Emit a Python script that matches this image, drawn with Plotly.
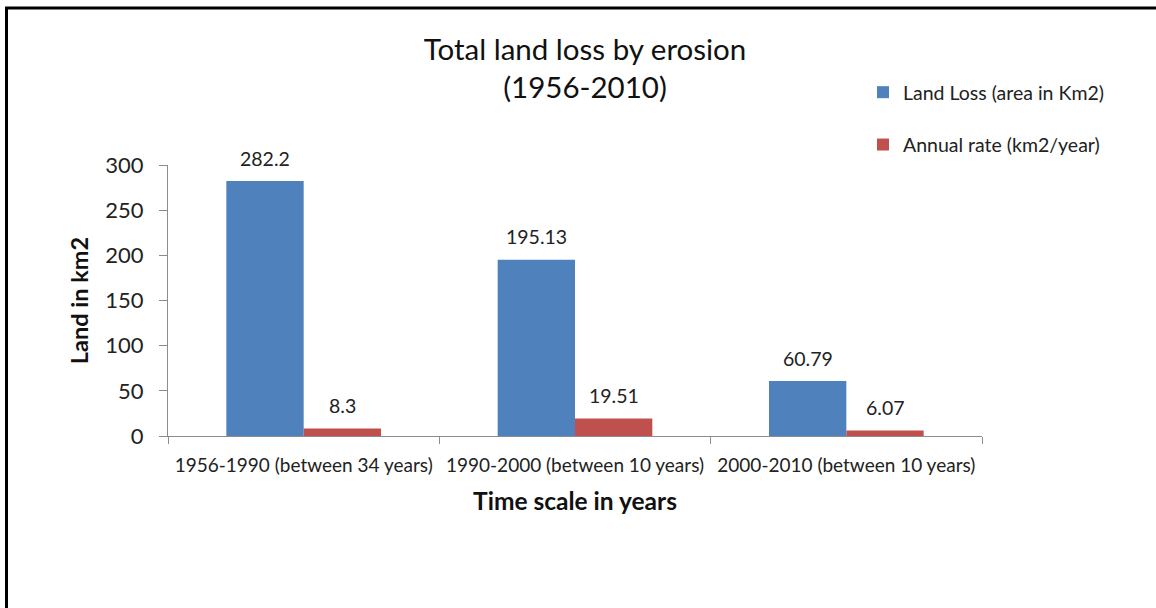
import plotly.graph_objects as go

categories = ["1956-1990 (between 34 years)", "1990-2000 (between 10 years)", "2000-2010 (between 10 years)"]
land_loss = [282.2, 195.13, 60.79]
annual_rate = [8.3, 19.51, 6.07]
land_loss_labels = ["282.2", "195.13", "60.79"]
annual_rate_labels = ["8.3", "19.51", "6.07"]
y_ticks = [0, 50, 100, 150, 200, 250, 300]

W, H = 1156, 608
L, R, T, B = 168, 174, 165, 172
pw, ph = W - L - R, H - T - B
BARGAP = 0.43

def px(x):
    return (x - L) / pw

def py(y):
    return (H - B - y) / ph

FONT = "Lato, Carlito, Calibri, sans-serif"

fig = go.Figure()
fig.add_trace(go.Bar(name="Land Loss (area in Km2)", x=categories, y=land_loss, legendgroup="a",
                     marker=dict(color="#4F81BD", line=dict(width=0))))
fig.add_trace(go.Bar(name="Annual rate (km2/year)", x=categories, y=annual_rate, legendgroup="b",
                     marker=dict(color="#C0504D", line=dict(width=0))))

# value labels, placed via category index and group offset
half = (1 - BARGAP) / 4
annotations = []
for i, (v, t) in enumerate(zip(land_loss, land_loss_labels)):
    annotations.append(dict(x=i - half, y=v, text=t, xref="x", yref="y", showarrow=False,
                            yanchor="middle", yshift=23, font=dict(size=19.5, color="#222222", family=FONT)))
for i, (v, t) in enumerate(zip(annual_rate, annual_rate_labels)):
    annotations.append(dict(x=i + half, y=v, text=t, xref="x", yref="y", showarrow=False,
                            yanchor="middle", yshift=23, font=dict(size=19.5, color="#222222", family=FONT)))

fig.update_layout(
    width=W, height=H,
    margin=dict(l=L, r=R, t=T, b=B, pad=0, autoexpand=False),
    paper_bgcolor="white", plot_bgcolor="white",
    barmode="group", bargap=BARGAP, bargroupgap=0,
    font=dict(family=FONT, color="#222222"),
    title=dict(text="Total land loss by erosion<br>(1956-2010)", x=585 / W, xanchor="center",
               y=1 - 60 / H, yanchor="top", font=dict(size=29.5, color="#111111", family=FONT)),
    legend=dict(x=px(863), y=py(73), xanchor="left", yanchor="top",
                font=dict(size=19.5, color="#222222", family=FONT),
                traceorder="grouped", tracegroupgap=24, itemwidth=30, bgcolor="rgba(0,0,0,0)"),
    xaxis=dict(showline=True, linecolor="#8C8C8C", linewidth=1, ticks="outside", automargin=False,
               tickson="boundaries", ticklen=7, tickcolor="#8C8C8C", ticklabelstandoff=12, tickangle=0,
               tickfont=dict(size=19, color="#222222", family=FONT),
               title=dict(text="<b>Time scale in years</b>", font=dict(size=24.5, color="#111111", family=FONT), standoff=18)),
    yaxis=dict(range=[0, 300], tickvals=y_ticks, showline=True, linecolor="#8C8C8C", linewidth=1,
               ticks="outside", ticklen=8, tickcolor="#8C8C8C", showgrid=False, zeroline=False,
               ticklabelstandoff=11, automargin=False,
               tickfont=dict(size=22, color="#222222", family=FONT),
               title=dict(text="<b>Land in km2</b>", font=dict(size=23.5, color="#111111", family=FONT), standoff=10)),
    annotations=annotations,
    shapes=[
        dict(type="line", xref="paper", yref="paper", x0=px(5), x1=px(1160), y0=py(8), y1=py(8),
             line=dict(color="black", width=3)),
        dict(type="line", xref="paper", yref="paper", x0=px(6.5), x1=px(6.5), y0=py(7), y1=py(612),
             line=dict(color="black", width=3)),
    ],
)

fig.write_html("out.html", config={"displayModeBar": False},
               post_script="document.body.style.margin='0';document.body.style.overflow='hidden';")
